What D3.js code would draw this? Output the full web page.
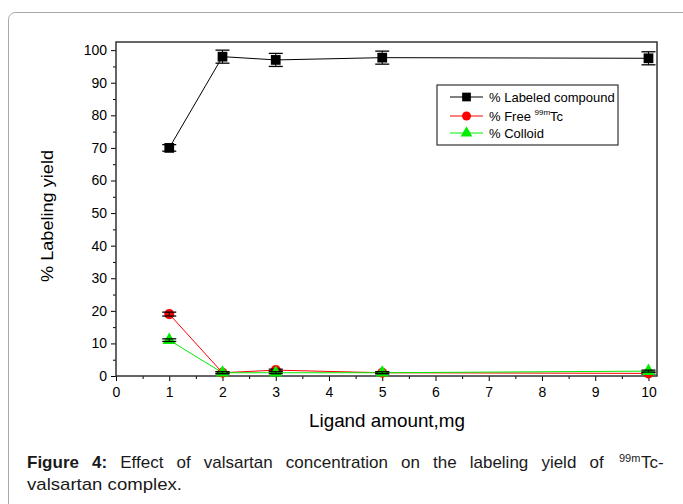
<!DOCTYPE html>
<html>
<head>
<meta charset="utf-8">
<script src="https://cdn.jsdelivr.net/npm/d3@7"></script>
<style>
  body { margin: 0; background: #fff; }
  svg { font-family: "Liberation Sans", Arial, sans-serif; }
</style>
</head>
<body>
<script>
// data
var ligandAmount = [1, 2, 3, 5, 10];
var labeled      = [70, 98, 97, 97.7, 97.5];
var labeledErr   = [1, 2, 2, 2, 2];
var freeTc       = [19, 1, 1.8, 1, 0.8];
var freeErr      = [0.6, 0.3, 0.3, 0.3, 0.3];
var colloid      = [11, 1, 1, 1, 1.5];
var colloidErr   = [0.4, 0.3, 0.3, 0.3, 0.3];
var yTicks = [0, 10, 20, 30, 40, 50, 60, 70, 80, 90, 100];
var xTicks = [0, 1, 2, 3, 4, 5, 6, 7, 8, 9, 10];

var W = 683, H = 504;
var margin = {top: 42, right: 26, bottom: 128, left: 116},
    width = W - margin.left - margin.right,
    height = H - margin.top - margin.bottom;

var svg = d3.select("body").append("svg")
    .attr("width", W)
    .attr("height", H);

// outer rounded frame
svg.append("rect")
    .attr("x", 8.5).attr("y", 12.5)
    .attr("width", 700).attr("height", 520)
    .attr("rx", 7)
    .attr("fill", "none")
    .attr("stroke", "#a8a8a8");

var x = d3.scaleLinear().domain([0, 10.16]).range([0, width]);
var y = d3.scaleLinear().domain([0, 102.5]).range([height, 0]);

var g = svg.append("g")
    .attr("transform", "translate(" + margin.left + "," + margin.top + ")");

// minor ticks
g.append("g")
    .attr("transform", "translate(0," + height + ")")
    .call(d3.axisBottom(x).tickValues(d3.range(0.5, 10.5, 1)).tickSize(3).tickFormat(""))
    .call(function(a) { a.select(".domain").remove(); });
g.append("g")
    .call(d3.axisLeft(y).tickValues(d3.range(5, 105, 10)).tickSize(3).tickFormat(""))
    .call(function(a) { a.select(".domain").remove(); });

// major ticks
var xAxis = g.append("g")
    .attr("transform", "translate(0," + height + ")")
    .call(d3.axisBottom(x).tickValues(xTicks).tickSize(5).tickPadding(6));
xAxis.select(".domain").remove();
xAxis.selectAll("text").style("font-size", "14px").attr("fill", "#000");

var yAxis = g.append("g")
    .call(d3.axisLeft(y).tickValues(yTicks).tickSize(5).tickPadding(4));
yAxis.select(".domain").remove();
yAxis.selectAll("text").style("font-size", "14px").attr("fill", "#000");

// plot box
g.append("rect")
    .attr("width", width).attr("height", height)
    .attr("fill", "none")
    .attr("stroke", "#333")
    .attr("stroke-width", 1.5);

var series = [
  {name: "labeled", vals: labeled, err: labeledErr, color: "#000", fill: "#000", shape: d3.symbolSquare, size: 95},
  {name: "free", vals: freeTc, err: freeErr, color: "#ff0000", fill: "#ff0000", shape: d3.symbolCircle, size: 80},
  {name: "colloid", vals: colloid, err: colloidErr, color: "#00ee00", fill: "#00ee00", shape: d3.symbolTriangle, size: 75}
];

var line = d3.line()
    .x(function(d) { return x(d[0]); })
    .y(function(d) { return y(d[1]); });

series.forEach(function(s) {
  var pts = ligandAmount.map(function(v, i) { return [v, s.vals[i], s.err[i]]; });
  g.append("path")
      .datum(pts)
      .attr("d", line)
      .attr("fill", "none")
      .attr("stroke", s.color)
      .attr("stroke-width", 1);
});

series.forEach(function(s) {
  var pts = ligandAmount.map(function(v, i) { return [v, s.vals[i], s.err[i]]; });
  var grp = g.append("g");
  grp.selectAll("path.m")
      .data(pts).enter().append("path")
      .attr("class", "m")
      .attr("transform", function(d) { return "translate(" + x(d[0]) + "," + y(d[1]) + ")"; })
      .attr("d", d3.symbol().type(s.shape).size(s.size))
      .attr("fill", s.fill);
  // error bars (black)
  var eb = grp.selectAll("g.eb").data(pts).enter().append("g").attr("class", "eb");
  eb.append("line")
      .attr("x1", function(d) { return x(d[0]); })
      .attr("x2", function(d) { return x(d[0]); })
      .attr("y1", function(d) { return y(d[1] - d[2]); })
      .attr("y2", function(d) { return y(d[1] + d[2]); })
      .attr("stroke", "#000");
  eb.selectAll("line.cap")
      .data(function(d) { return [[d[0], d[1] - d[2]], [d[0], d[1] + d[2]]]; })
      .enter().append("line")
      .attr("class", "cap")
      .attr("x1", function(d) { return x(d[0]) - 7; })
      .attr("x2", function(d) { return x(d[0]) + 7; })
      .attr("y1", function(d) { return y(d[1]); })
      .attr("y2", function(d) { return y(d[1]); })
      .attr("stroke", "#000")
      .attr("stroke-width", 1.3);
});

// legend
var legend = svg.append("g").attr("transform", "translate(437,85)");
legend.append("rect")
    .attr("width", 181).attr("height", 60)
    .attr("fill", "#fff")
    .attr("stroke", "#333")
    .attr("stroke-width", 1.2);
var legendRows = [97, 116, 133];
series.forEach(function(s, i) {
  var row = legend.append("g").attr("transform", "translate(0," + (legendRows[i] - 85) + ")");
  row.append("line").attr("x1", 13).attr("x2", 46).attr("stroke", s.color);
  row.append("path")
      .attr("transform", "translate(29.5,0)")
      .attr("d", d3.symbol().type(s.shape).size(s.size * 0.8))
      .attr("fill", s.fill);
});
var lt = legend.append("g").style("font-size", "13px").attr("fill", "#000");
lt.append("text").attr("x", 52).attr("y", 97 - 85 + 5).text("% Labeled compound");
var ft = lt.append("text").attr("x", 52).attr("y", 116 - 85 + 5);
ft.append("tspan").text("% Free ");
ft.append("tspan").attr("dy", -6).style("font-size", "8px").text("99m");
ft.append("tspan").attr("dy", 6).text("Tc");
lt.append("text").attr("x", 52).attr("y", 133 - 85 + 5).text("% Colloid");

// axis titles
svg.append("text")
    .attr("transform", "translate(53,216) rotate(-90)")
    .attr("text-anchor", "middle")
    .attr("textLength", 132)
    .attr("lengthAdjust", "spacingAndGlyphs")
    .style("font-size", "17px")
    .text("% Labeling yield");
svg.append("text")
    .attr("x", 309).attr("y", 427)
    .attr("textLength", 156)
    .attr("lengthAdjust", "spacingAndGlyphs")
    .style("font-size", "19px")
    .text("Ligand amount,mg");

// caption (justified first line: stretch word spacing)
var cap = svg.append("g").style("font-size", "17px").attr("fill", "#1a1a1a");
var c1 = cap.append("text").attr("x", 27).attr("y", 468);
c1.append("tspan").style("font-weight", "bold").text("Figure 4:");
c1.append("tspan").text(" Effect of  valsartan concentration on the labeling yield of");
var natural = c1.node().getComputedTextLength();
var spaces = 11;
c1.style("word-spacing", Math.max(0, (612 - 27 - natural) / spaces) + "px");
var c2 = cap.append("text").attr("x", 619).attr("y", 468);
c2.append("tspan").attr("dy", -6).style("font-size", "11px").text("99m");
c2.append("tspan").attr("x", 641).attr("dy", 6).text("Tc-");
cap.append("text").attr("x", 27).attr("y", 490)
    .attr("textLength", 155)
    .attr("lengthAdjust", "spacingAndGlyphs")
    .text("valsartan complex.");
</script>
</body>
</html>
